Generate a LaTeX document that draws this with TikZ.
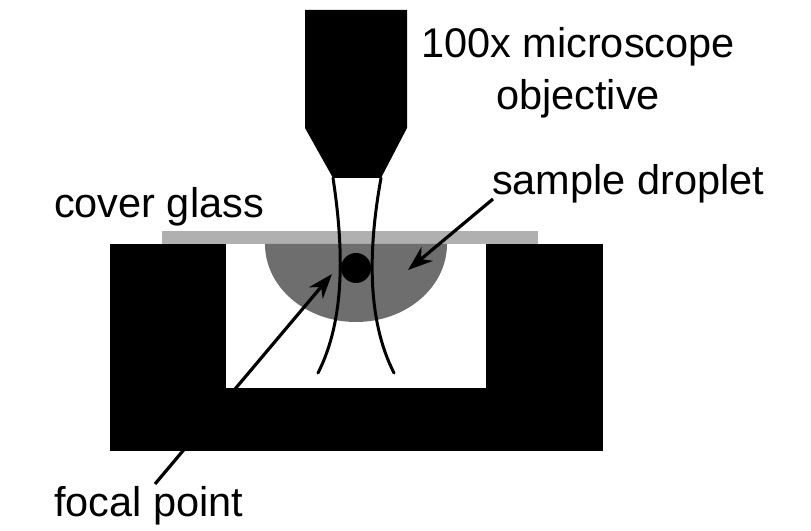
\documentclass[tikz,border=0pt]{standalone}
\usepackage{fontspec}
\setmainfont{Liberation Sans}
\usetikzlibrary{arrows.meta}
\usetikzlibrary{positioning}
\definecolor{glassgray}{HTML}{B0B0B0}
\definecolor{dropgray}{HTML}{6E6E6E}
\tikzstyle{wall} = [rectangle,fill=black,draw=none,inner sep=0pt,outer sep=0pt]
\tikzstyle{lbl} = [inner sep=0pt,outer sep=0pt,font=\fontsize{41.5}{52}\selectfont]
\tikzstyle{beam} = [line width=3pt,line cap=round]
\tikzstyle{pointer} = [line width=3.2pt,-{Stealth[length=25pt,width=18pt]}]

\begin{document}
\begin{tikzpicture}[x=1pt,y=1pt]
\useasboundingbox (0,0) rectangle (811,530);

% Define nodes
\node[wall, minimum width=116pt, minimum height=207pt, anchor=south west] (lwall) at (110,79) {};
\node[wall, minimum width=260pt, minimum height=63pt, right = 0pt of lwall.south east, anchor=south west] (bwall) {};
\node[wall, minimum width=117pt, minimum height=207pt, right = 0pt of bwall.south east, anchor=south west] (rwall) {};
\node[rectangle, fill=glassgray, inner sep=0pt, minimum width=376pt, minimum height=13pt, anchor=south west] (glass) at (162,286) {};
\node[lbl, align=center, anchor=base] (obj) at (578,420) {100x microscope\\objective};
\node[lbl, anchor=base west] (drop) at (492,335) {sample droplet};
\node[lbl, anchor=base west] (cover) at (54,312) {cover glass};
\node[lbl, anchor=base west] (focal) at (54,13) {focal point};

\coordinate (lfree) at (318,157);
\coordinate (rfree) at (394,157);
\coordinate (ltop) at (333,352);
\coordinate (rtop) at (381,352);
\coordinate (dropstart) at (493,331);
\coordinate (droptip) at (408,260);
\coordinate (focalstart) at (155,46);
\coordinate (focaltip) at (332,256);

% Droplet and objective
\fill[dropgray] (265,286) arc[start angle=180, end angle=360, x radius=91, y radius=78] -- cycle;
\fill[black] (305,520) -- (407,520) -- (407,402) -- (381,352) -- (333,352) -- (305,402) -- cycle;

% Beams
\draw[beam] (ltop) .. controls (344,280) and (345,210) .. (lfree);
\draw[beam] (rtop) .. controls (368,280) and (367,210) .. (rfree);

\node[circle, fill=black, inner sep=0pt, minimum size=30pt] (spot) at (356,262) {};

% Edges
\draw[pointer] (dropstart) -- (droptip);
\draw[pointer] (focalstart) -- (focaltip);
\end{tikzpicture}
\end{document}
